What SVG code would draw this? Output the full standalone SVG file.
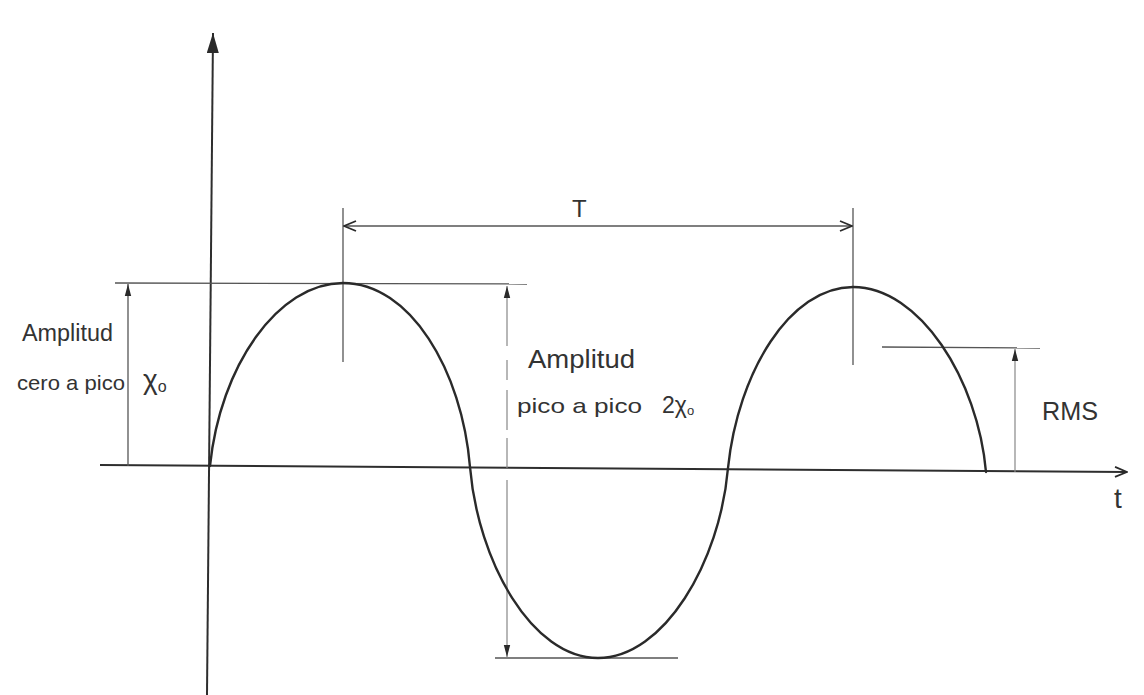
<svg xmlns="http://www.w3.org/2000/svg" width="1144" height="695" viewBox="0 0 1144 695">
<style>
.axis{stroke:#2e2e2e;stroke-width:2;fill:none}
.wave{stroke:#2a2a2a;stroke-width:2.4;fill:none;stroke-linecap:round}
.guide{stroke:#555;stroke-width:1.3;fill:none}
.faint{stroke:#888;stroke-width:1.2;fill:none}
.lbl{font-family:"Liberation Sans","DejaVu Sans",sans-serif;fill:#333}
</style>
<defs>
<marker id="fill" viewBox="0 0 12 8" refX="12" refY="4" markerWidth="12" markerHeight="8" markerUnits="userSpaceOnUse" orient="auto-start-reverse">
<path d="M0,0.8 L12,4 L0,7.2 Z" fill="#2a2a2a"/>
</marker>
<marker id="bigfill" viewBox="0 0 20 12" refX="20" refY="6" markerWidth="20" markerHeight="12" markerUnits="userSpaceOnUse" orient="auto">
<path d="M0,0 L20,6 L0,12 Z" fill="#2a2a2a"/>
</marker>
<marker id="open" viewBox="0 0 14 12" refX="13" refY="6" markerWidth="14" markerHeight="12" markerUnits="userSpaceOnUse" orient="auto-start-reverse">
<path d="M1,1 L13,6 L1,11" fill="none" stroke="#2a2a2a" stroke-width="1.8"/>
</marker>
</defs>
<rect width="1144" height="695" fill="#fff"/>
<g id="connectors">
<line class="axis" x1="207" y1="695" x2="213" y2="33" marker-end="url(#bigfill)"/>
<line class="axis" x1="100" y1="465" x2="1127" y2="472" marker-end="url(#open)"/>
<line class="guide" x1="115" y1="283" x2="527" y2="284"/>
<line class="guide" x1="128" y1="466" x2="128" y2="284" marker-end="url(#fill)"/>
<line class="faint" x1="507" y1="286" x2="507" y2="657" marker-start="url(#fill)" marker-end="url(#fill)" stroke-dasharray="60,14,20,10,40,8,30,12,200"/>
<line class="guide" x1="495" y1="658" x2="678" y2="658"/>
<line class="guide" x1="343" y1="208" x2="343" y2="362"/>
<line class="guide" x1="853" y1="208" x2="853" y2="365"/>
<line class="guide" x1="344" y1="226" x2="852" y2="226" marker-start="url(#open)" marker-end="url(#open)"/>
<line class="guide" x1="882" y1="347" x2="1040" y2="348"/>
<line class="faint" x1="1015" y1="472" x2="1015" y2="349" marker-end="url(#fill)"/>
</g>
<g id="wave">
<path class="wave" d="M210,466 C220,366 278,283 343,283 C410,283 462,370 470,467 C478,562 532,658 598,658 C664,658 720,562 728,468 C738,372 790,287 853,287 C920,287 978,380 986,472"/>
</g>
<g id="labels">
<text class="lbl" x="22" y="341" font-size="23" textLength="91" lengthAdjust="spacingAndGlyphs">Amplitud</text>
<text class="lbl" x="17" y="390" font-size="21" textLength="108" lengthAdjust="spacingAndGlyphs">cero a pico</text>
<text class="lbl" x="143" y="389" font-size="28">χ<tspan font-size="16" dy="3">o</tspan></text>
<text class="lbl" x="528" y="368" font-size="25" textLength="107" lengthAdjust="spacingAndGlyphs">Amplitud</text>
<text class="lbl" x="517" y="413" font-size="21" textLength="125" lengthAdjust="spacingAndGlyphs">pico a pico</text>
<text class="lbl" x="662" y="413" font-size="23">2χ<tspan font-size="13" dy="2">o</tspan></text>
<text class="lbl" x="572" y="217" font-size="24">T</text>
<text class="lbl" x="1042" y="420" font-size="25" textLength="56" lengthAdjust="spacingAndGlyphs">RMS</text>
<text class="lbl" x="1114" y="508" font-size="28">t</text>
</g>
</svg>
